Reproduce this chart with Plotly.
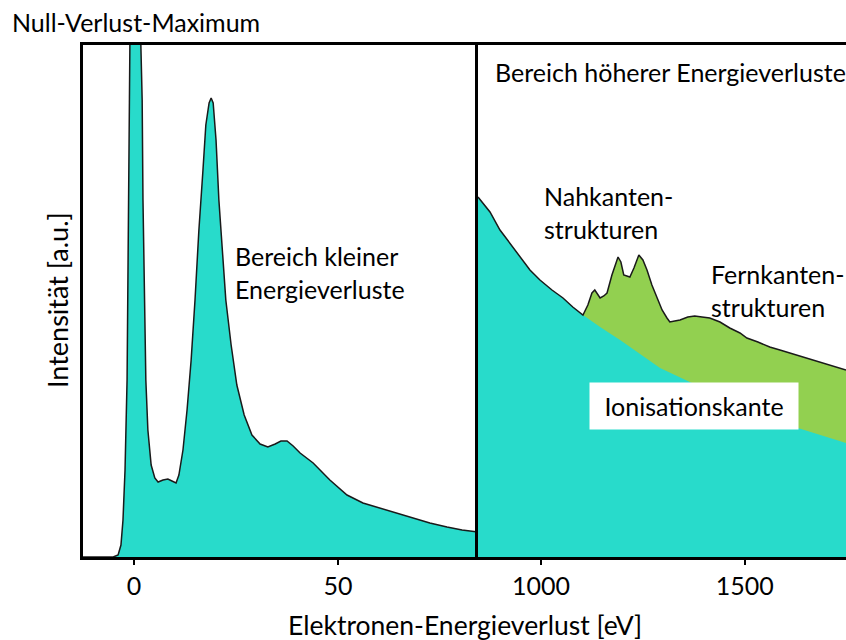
import plotly.graph_objects as go
from plotly.subplots import make_subplots

# Low-loss region: zero-loss peak and plasmon peak (energy loss in eV, intensity in a.u.)
low_ev = [-12.5, -5.1, -3.9, -3.2, -2.7, -2.2, -1.7, -1.5, -1.2, -1.0, 0.0, 1.7, 2.0, 2.2,
          2.5, 2.9, 3.4, 4.2, 5.1, 5.9, 7.1, 8.3, 9.3, 10.3, 11.0, 12.0, 13.0, 14.0, 14.95,
          15.9, 16.9, 17.6, 18.4, 18.9, 19.4, 20.1, 20.8, 21.6, 22.5, 23.8, 25.2, 27.0, 28.9,
          30.9, 32.8, 34.6, 36.0, 37.5, 39.0, 40.7, 43.9, 48.0, 52.2, 56.1, 60.3, 64.5, 68.4,
          72.5, 76.7, 80.4, 84.3]
low_int = [0, 0, 2, 12, 37, 87, 177, 307, 457, 517, 800, 517, 457, 357,
           257, 177, 127, 92, 79, 75, 77, 78, 76, 74, 82, 107, 147, 197, 257,
           327, 387, 432, 454, 459, 454, 417, 357, 307, 257, 212, 172, 142, 122,
           113, 110, 113, 116, 116, 111, 104, 94, 77, 62, 54, 49, 44, 39,
           34, 30, 27, 25]

# Core-loss region: measured spectrum
high_ev = [845.6, 875, 899.5, 924, 948.5, 973, 997.5, 1027, 1054, 1078, 1103, 1115, 1125,
           1132, 1145, 1154, 1162, 1174, 1189, 1196, 1203, 1218, 1228, 1240, 1250, 1260,
           1272, 1284, 1297, 1309, 1316, 1328, 1341, 1360, 1377, 1395, 1414, 1439, 1463,
           1488, 1505, 1532, 1561, 1586, 1610, 1635, 1652, 1672, 1691, 1721, 1748]
high_int = [360, 345, 327, 314, 300, 287, 277, 267, 259, 250, 242, 252, 264,
            267, 259, 261, 264, 282, 300, 295, 282, 280, 289, 302, 297, 287,
            272, 259, 247, 239, 235, 236, 237, 240, 241, 240, 239, 235, 229,
            224, 219, 215, 210, 207, 204, 201, 199, 196, 194, 190, 187]

# Extrapolated background below the ionisation edge
bg_ev = [845.6, 875, 899.5, 924, 948.5, 973, 997.5, 1027, 1054, 1078, 1103, 1145, 1194,
         1243, 1292, 1365, 1439, 1537, 1630, 1748]
bg_int = [360, 345, 327, 314, 300, 287, 277, 267, 259, 250, 242, 230, 217,
          203, 189, 175, 161, 144, 129, 114]

low_ticks = [0, 50]
high_ticks = [1000, 1500]

CYAN = "#28DBCB"
GREEN = "#92D050"
FONT = "Lato"

fig = make_subplots(rows=1, cols=2, shared_yaxes=True, horizontal_spacing=0,
                    column_widths=[395, 368])

fig.add_trace(go.Scatter(x=low_ev, y=low_int, mode="lines", fill="tozeroy",
                         fillcolor=CYAN, line=dict(color="#1a1a1a", width=1.5),
                         hoverinfo="skip"), row=1, col=1)

fig.add_trace(go.Scatter(x=high_ev, y=high_int, mode="lines", fill="tozeroy",
                         fillcolor=GREEN, line=dict(width=0), hoverinfo="skip"),
              row=1, col=2)
fig.add_trace(go.Scatter(x=bg_ev, y=bg_int, mode="lines", fill="tozeroy",
                         fillcolor=CYAN, line=dict(width=0), hoverinfo="skip"),
              row=1, col=2)
fig.add_trace(go.Scatter(x=high_ev, y=high_int, mode="lines",
                         line=dict(color="#1a1a1a", width=1.5), hoverinfo="skip"),
              row=1, col=2)

axis_common = dict(showline=True, linecolor="black", linewidth=3, mirror=True,
                   ticks="outside", ticklen=5, tickwidth=2, tickcolor="black",
                   showgrid=False, zeroline=False,
                   tickfont=dict(family=FONT, size=25, color="black"))

fig.update_xaxes(range=[-12.5, 84.3], tickvals=low_ticks, row=1, col=1, **axis_common)
fig.update_xaxes(range=[845.6, 1748], tickvals=high_ticks, row=1, col=2, **axis_common)
fig.update_yaxes(range=[0, 512], showticklabels=False, ticks="", showgrid=False,
                 zeroline=False, showline=True, linecolor="black", linewidth=3,
                 mirror=False, row=1, col=1)
# left edge of the core-loss panel doubles as the divider between both regions
fig.update_yaxes(range=[0, 512], showticklabels=False, ticks="", showgrid=False,
                 zeroline=False, showline=True, linecolor="black", linewidth=3,
                 mirror=False, row=1, col=2)

txt = dict(family=FONT, size=25, color="black")
annotations = [
    dict(text="Null-Verlust-Maximum", xref="paper", yref="paper",
         x=-73 / 763, y=(557 - 22) / 512, xanchor="left", yanchor="middle"),
    dict(text="Bereich kleiner<br>Energieverluste", xref="x", yref="y",
         x=24.3, y=285, xanchor="left", yanchor="middle", align="left"),
    dict(text="Bereich höherer Energieverluste", xref="paper", yref="paper",
         x=(493 - 83) / 763, y=(557 - 72) / 512, xanchor="left", yanchor="middle"),
    dict(text="Nahkanten-<br>strukturen", xref="x2", yref="y",
         x=1002, y=345, xanchor="left", yanchor="middle", align="left"),
    dict(text="Fernkanten-<br>strukturen", xref="x2", yref="y",
         x=1412, y=267, xanchor="left", yanchor="middle", align="left"),
    dict(text="Ionisationskante", xref="x2", yref="y",
         x=1376, y=151, xanchor="center", yanchor="middle",
         bgcolor="white", width=204, height=42, borderpad=2),
    dict(text="Intensität [a.u.]", xref="paper", yref="paper",
         x=(57 - 83) / 763, y=(557 - 300) / 512, xanchor="center", yanchor="middle",
         textangle=-90, font=dict(family=FONT, size=27, color="black")),
    dict(text="Elektronen-Energieverlust [eV]", xref="paper", yref="paper",
         x=(465 - 83) / 763, y=(557 - 625) / 512, xanchor="center", yanchor="middle",
         font=dict(family=FONT, size=26.5, color="black")),
]
for a in annotations:
    a.setdefault("font", txt)
    a["showarrow"] = False

fig.update_layout(width=846, height=640, margin=dict(l=83, r=0, t=45, b=83),
                  paper_bgcolor="white", plot_bgcolor="white", showlegend=False,
                  annotations=annotations)

fig.write_html("out.html")
